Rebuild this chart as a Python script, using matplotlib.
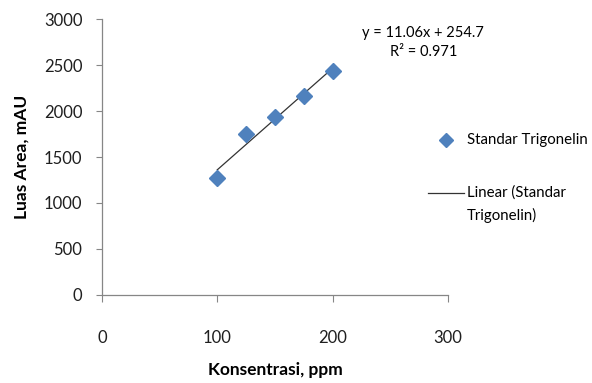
import numpy as np
import matplotlib
matplotlib.use("Agg")
import matplotlib.pyplot as plt
from matplotlib.lines import Line2D

plt.rcParams['font.family'] = ['Lato', 'DejaVu Sans']

# data
konsentrasi = [100, 125, 150, 175, 200]
luas_area = [1270, 1750, 1935, 2160, 2435]
x_ticks = [0, 100, 200, 300]
y_ticks = [0, 500, 1000, 1500, 2000, 2500, 3000]
eq_text = "y = 11.06x + 254.7\nR² = 0.971"
slope, intercept = 11.06, 254.7

blue = '#4F81BD'
gray = '#868686'
dark = '#333333'

fig = plt.figure(figsize=(5.92, 3.83), dpi=100)
ax = fig.add_axes([0.172, 0.230, 0.585, 0.720])

ax.plot(konsentrasi, luas_area, linestyle='none', marker='D', markersize=8.5,
        color=blue, zorder=3)

# linear trendline
xs = np.array([min(konsentrasi), max(konsentrasi)])
ax.plot(xs, slope * xs + intercept, color=dark, linewidth=0.9, zorder=2)

ax.set_xlim(0, 300)
ax.set_ylim(0, 3000)
ax.set_xticks(x_ticks)
ax.set_yticks(y_ticks)

for side in ['top', 'right']:
    ax.spines[side].set_visible(False)
for side in ['left', 'bottom']:
    ax.spines[side].set_color(gray)
    ax.spines[side].set_linewidth(0.9)

ax.tick_params(axis='x', direction='out', length=5, color=gray, pad=20,
               labelsize=12, labelcolor='#1f1f1f')
ax.tick_params(axis='y', direction='out', length=4, color=gray, pad=10,
               labelsize=12, labelcolor='#1f1f1f')

ax.set_xlabel('Konsentrasi, ppm', fontsize=12.5, fontweight='bold', labelpad=12)
ax.set_ylabel('Luas Area, mAU', fontsize=12.5, fontweight='bold', labelpad=10)

fig.text(0.715, 0.888, eq_text, ha='center', va='center', fontsize=10.5,
         linespacing=1.45)

# legend drawn by hand so the line sample sits beside the first label line
fig.add_artist(Line2D([0.753], [0.634], linestyle='none', marker='D',
                      markersize=7, color=blue, transform=fig.transFigure))
fig.text(0.789, 0.634, 'Standar Trigonelin', ha='left', va='center',
         fontsize=10.8)
fig.add_artist(Line2D([0.723, 0.784], [0.496, 0.496], color=dark,
                      linewidth=0.9, transform=fig.transFigure))
fig.text(0.789, 0.496, 'Linear (Standar', ha='left', va='center',
         fontsize=10.8)
fig.text(0.789, 0.438, 'Trigonelin)', ha='left', va='center', fontsize=10.8)

fig.savefig('out.png', dpi=100)
